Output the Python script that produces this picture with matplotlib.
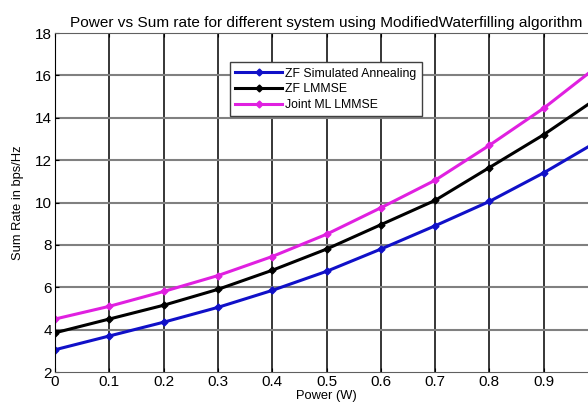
import matplotlib
matplotlib.use('Agg')
import numpy as np
from matplotlib import pyplot as plt

plt.rcParams['font.family'] = ['Liberation Sans', 'DejaVu Sans']

power = [0, 0.1, 0.2, 0.3, 0.4, 0.5, 0.6, 0.7, 0.8, 0.9, 1.0]
zf_sa = [3.05, 3.7, 4.35, 5.05, 5.85, 6.75, 7.8, 8.9, 10.05, 11.4, 12.9]
zf_lmmse = [3.85, 4.5, 5.15, 5.9, 6.8, 7.8, 8.95, 10.1, 11.65, 13.2, 14.95]
joint_ml = [4.5, 5.1, 5.8, 6.55, 7.45, 8.5, 9.75, 11.05, 12.7, 14.45, 16.45]

xticks = [0, 0.1, 0.2, 0.3, 0.4, 0.5, 0.6, 0.7, 0.8, 0.9, 1]
# the "1" label falls outside the cropped picture
xticklabels = ['0', '0.1', '0.2', '0.3', '0.4', '0.5', '0.6', '0.7', '0.8', '0.9', '']
yticks = [2, 4, 6, 8, 10, 12, 14, 16, 18]

fig = plt.figure(figsize=(5.88, 4.12), dpi=100)
# axes runs past the right edge, like the cropped original
ax = fig.add_axes([55 / 588, 1 - 372 / 412, 543 / 588, 339 / 412])

series = [
    (zf_sa, '#1010c8', 'ZF Simulated Annealing'),
    (zf_lmmse, 'black', 'ZF LMMSE'),
    (joint_ml, '#e020e0', 'Joint ML LMMSE'),
]
for vals, col, lab in series:
    ax.plot(power, vals, color=col, lw=2.2, marker='D', ms=3.5, label=lab)

ax.set_xlim(0, 1)
ax.set_ylim(2, 18)
ax.set_xticks(xticks)
ax.set_xticklabels(xticklabels)
ax.set_yticks(yticks)
ax.tick_params(direction='in', top=True, right=True, labelsize=11, length=3, pad=2)

for x in xticks[1:]:
    ax.axvline(x, color='black', lw=1.1, zorder=0)
for y in yticks[1:-1]:
    ax.axhline(y, color='#808080', lw=1.5, zorder=0)

for s in ax.spines.values():
    s.set_color('#606060')
ax.spines['left'].set_color('black')

ax.set_title('Power vs Sum rate for different system using ModifiedWaterfilling algorithm',
             fontsize=11.1, pad=4)
ax.set_xlabel('Power (W)', fontsize=9.3, labelpad=1)
ax.set_ylabel('Sum Rate in bps/Hz', fontsize=9.3, labelpad=8)

leg = ax.legend(loc='upper left', bbox_to_anchor=(0.322, 0.914), borderaxespad=0,
                fontsize=8.8, fancybox=False, edgecolor='#404040', framealpha=1,
                handlelength=3.8, handletextpad=0.3, labelspacing=0.3,
                borderpad=0.45)
leg.get_frame().set_linewidth(1.0)

fig.savefig('out.png', dpi=100)
